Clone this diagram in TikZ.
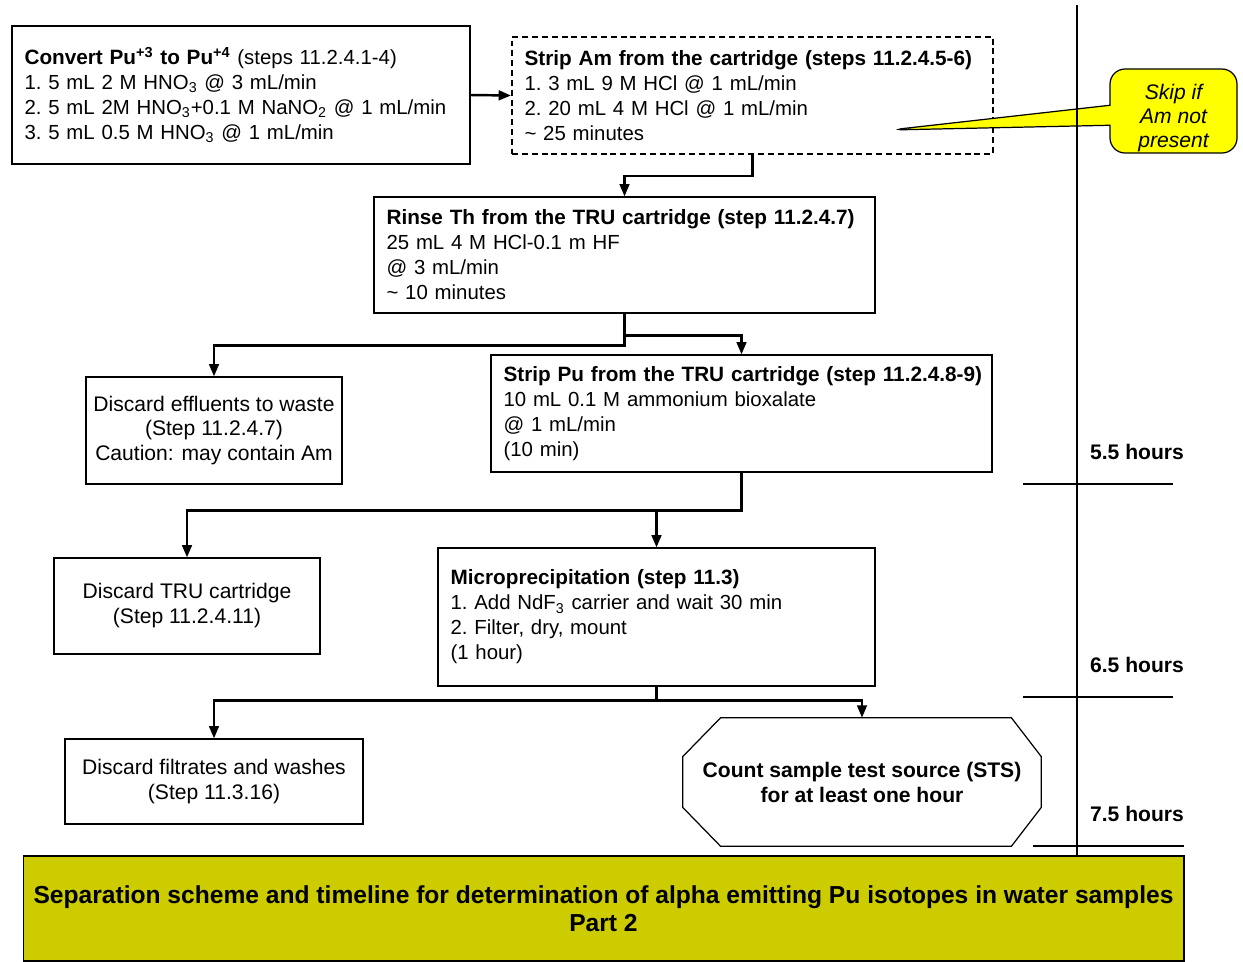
\documentclass[tikz,border=0pt]{standalone}
\usepackage{fontspec}
\setmainfont{Liberation Sans}
\usetikzlibrary{shapes,arrows,arrows.meta,calc}
\definecolor{banner-olive}{RGB}{204,204,0}
\definecolor{note-yellow}{RGB}{255,255,0}
\newcommand{\stepTitle}[1]{\mbox{\fontsize{11.8}{14.2}\selectfont\bfseries #1}}
\tikzstyle{baseFont}=[font=\fontsize{11.6}{14.2}\selectfont\frenchspacing]
\tikzstyle{stepNode}=[draw, line width=0.7pt, baseFont, align=left, inner xsep=0.25cm, inner ysep=0pt]
\tikzstyle{discardNode}=[draw, line width=0.7pt, font=\fontsize{12}{14.2}\selectfont, align=center]
\tikzstyle{flow}=[draw, line width=1.4pt, -{Triangle[length=7pt,width=5.5pt]}]
\tikzstyle{timeLine}=[draw, line width=1.2pt]
\tikzstyle{hourLabel}=[font=\fontsize{12}{14.2}\selectfont\bfseries]

\begin{document}
\begin{tikzpicture}[x=0.02cm, y=-0.02cm]
\useasboundingbox (0,0) rectangle (1243,961);

% procedure steps
\path (241,95) node (convert) [stepNode, text width=8.66cm, minimum height=2.76cm]
  {\stepTitle{Convert Pu\textsuperscript{+3} to Pu\textsuperscript{+4}} (steps 11.2.4.1-4)\\
   1. 5 mL 2 M HNO\textsubscript{3} @ 3 mL/min\\
   2. 5 mL 2M HNO\textsubscript{3}+0.1 M NaNO\textsubscript{2} @ 1 mL/min\\
   3. 5 mL 0.5 M HNO\textsubscript{3} @ 1 mL/min};
\path (752.5,95.5) node (stripAm) [stepNode, line width=1.2pt, dash pattern=on 3.4pt off 2.2pt, text width=9.12cm, minimum height=2.34cm]
  {\stepTitle{Strip Am from the cartridge (steps 11.2.4.5-6)}\\
   1. 3 mL 9 M HCl @ 1 mL/min\\
   2. 20 mL 4 M HCl @ 1 mL/min\\
   \textasciitilde\ 25 minutes};
\path (624.5,255) node (rinseTh) [stepNode, text width=9.52cm, minimum height=2.32cm]
  {\stepTitle{Rinse Th from the TRU cartridge (step 11.2.4.7)}\\
   25 mL 4 M HCl-0.1 m HF\\
   @ 3 mL/min\\
   \textasciitilde\ 10 minutes};
\path (741.5,413.5) node (stripPu) [stepNode, text width=9.52cm, minimum height=2.34cm]
  {\stepTitle{Strip Pu from the TRU cartridge (step 11.2.4.8-9)}\\
   10 mL 0.1 M ammonium bioxalate\\
   @ 1 mL/min\\
   (10 min)};
\path (656.5,617) node (microPpt) [stepNode, text width=8.24cm, minimum height=2.76cm]
  {\stepTitle{Microprecipitation (step 11.3)}\\
   1. Add NdF\textsubscript{3} carrier and wait 30 min\\
   2. Filter, dry, mount\\
   (1 hour)};
\path (862,782) node (countSts) [minimum width=7.16cm, minimum height=2.56cm, inner sep=0pt, align=center, font=\fontsize{12}{14.2}\selectfont\bfseries]
  {Count sample test source (STS)\\for at least one hour};
\draw[line width=0.7pt] ([xshift=0.76cm]countSts.north west) -- ([xshift=-0.6cm]countSts.north east)
  -- ([yshift=-0.78cm]countSts.north east) -- ([yshift=0.78cm]countSts.south east)
  -- ([xshift=-0.6cm]countSts.south east) -- ([xshift=0.76cm]countSts.south west)
  -- ([yshift=0.78cm]countSts.south west) -- ([yshift=-0.78cm]countSts.north west) -- cycle;

% discarded streams
\path (214,430.5) node (discardEff) [discardNode, minimum width=5.12cm, minimum height=2.14cm]
  {Discard effluents to waste\\(Step 11.2.4.7)\\Caution: may contain Am};
\path (187,606) node (discardTru) [discardNode, minimum width=5.32cm, minimum height=1.92cm]
  {Discard TRU cartridge\\(Step 11.2.4.11)};
\path (214,781.5) node (discardFilt) [discardNode, minimum width=5.96cm, minimum height=1.7cm]
  {Discard filtrates and washes\\(Step 11.3.16)};

% note
\coordinate (noteTip) at (890,130);
\path (1173.5,111) node (skipNote) [rectangle callout, draw, line width=0.7pt, fill=note-yellow, rounded corners=0.3cm, callout absolute pointer={(noteTip)}, callout pointer width=0.4cm, minimum width=2.54cm, minimum height=1.68cm, inner sep=0pt, align=center, font=\fontsize{12}{13.6}\selectfont\itshape]
  {\rule{0pt}{17pt}Skip if\\Am not\\present};

\path (603.5,908.5) node (title) [draw, line width=0.7pt, fill=banner-olive, minimum width=23.22cm, minimum height=2.1cm, align=center, font=\fontsize{14}{16}\selectfont\bfseries]
  {Separation scheme and timeline for determination of alpha emitting Pu isotopes in water samples\\Part 2};

% flow
\draw[flow] (convert.east) -- (stripAm.west);
\draw[flow] (stripAm.south) -- ++(0,21) -| (rinseTh.north);
\draw[flow] (rinseTh.south) -- ++(0,32) -| (discardEff.north);
\draw[flow] (rinseTh.south) -- ++(0,22) -| (stripPu.north);
\draw[flow] (stripPu.south) -- ++(0,38) -| (discardTru.north);
\draw[flow] (stripPu.south) -- ++(0,38) -| (microPpt.north);
\draw[flow] (microPpt.south) -- ++(0,14) -| (discardFilt.north);
\draw[flow] (microPpt.south) -- ++(0,14) -| (countSts.north);

% timeline
\coordinate (timeTop) at (1077,5);
\coordinate (timeBottom) at (1077,856);
\draw[timeLine] (timeTop) -- (timeBottom);
\draw[timeLine] (1023,484) -- (1173,484);
\draw[timeLine] (1023,697) -- (1173,697);
\draw[timeLine] (1033,846) -- (1184,846);
\path (1137,452) node (hourA) [hourLabel] {5.5 hours};
\path (1137,665) node (hourB) [hourLabel] {6.5 hours};
\path (1137,814) node (hourC) [hourLabel] {7.5 hours};
\end{tikzpicture}
\end{document}
